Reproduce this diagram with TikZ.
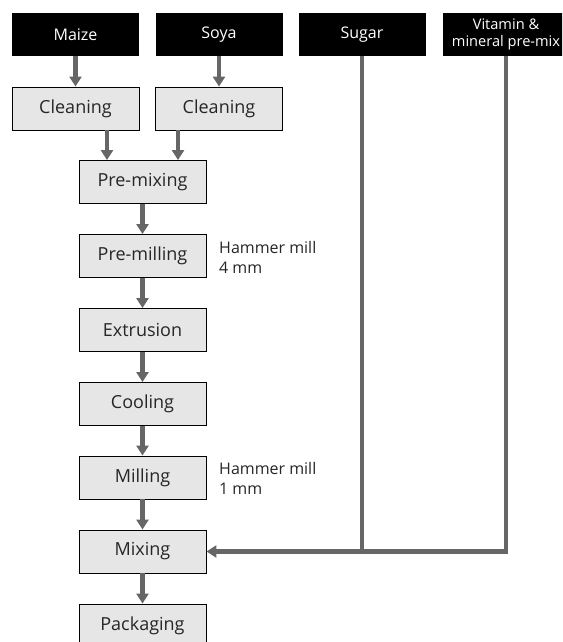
\documentclass[tikz,border=0pt]{standalone}
\usepackage{fontspec}
\setmainfont{Open Sans}
\usetikzlibrary{arrows.meta}
\definecolor{flow}{HTML}{666666}
\definecolor{boxfill}{HTML}{E6E6E6}
\begin{document}
\begin{tikzpicture}[x=1pt,y=-1pt,
  src/.style={fill=black,text=white,minimum width=127pt,minimum height=43pt,
    inner sep=0pt,align=center,font=\fontsize{16}{17.5}\selectfont},
  proc/.style={draw=black,line width=0.9pt,fill=boxfill,minimum width=127pt,
    minimum height=43pt,inner sep=0pt,text=black!85,font=\fontsize{18}{20}\selectfont},
  flowline/.style={draw=flow,line width=4.5pt},
  flowarrow/.style={flowline,-{Triangle[width=12pt,length=10pt]}},
  note/.style={anchor=north west,inner sep=0pt,align=left,text=black!85,
    font=\fontsize{16}{20}\selectfont}]
\useasboundingbox (0,0) rectangle (562,642);
\begin{scope}
\clip (0,0) rectangle (562,642);

% raw materials
\node[src] (maize) at (75.5,34.5) {Maize};
\node[src] (soya)  at (219,34.5)  {Soya};
\node[src] (sugar) at (362,34.5)  {Sugar};
\node[src,font=\fontsize{14.6}{17}\selectfont] (vit) at (506,34.5)
  {Vitamin \&\\mineral pre-mix};

% cleaning
\node[proc] (clean1) at (75.5,108.5) {Cleaning};
\node[proc] (clean2) at (219,108.5)  {Cleaning};

% main process line
\node[proc] (premix)  at (142.5,182)   {Pre-mixing};
\node[proc] (premill) at (142.5,256)   {Pre-milling};
\node[proc] (extr)    at (142.5,330)   {Extrusion};
\node[proc] (cool)    at (142.5,404)   {Cooling};
\node[proc] (mill)    at (142.5,477.5) {Milling};
\node[proc] (mix)     at (142.5,551.5) {Mixing};
\node[proc] (pack)    at (142.5,625.5) {Packaging};

% mill settings
\node[note] (n1) at (219,241.5) {Hammer mill\\4 mm};
\node[note] (n2) at (219,462.5) {Hammer mill\\1 mm};

% flows
\draw[flowarrow] (maize.south) -- (clean1.north);
\draw[flowarrow] (soya.south) -- (clean2.north);
\draw[flowarrow] (clean1.south -| 107,0) -- (premix.north -| 107,0);
\draw[flowarrow] (clean2.south -| 178,0) -- (premix.north -| 178,0);
\draw[flowarrow] (premix) -- (premill);
\draw[flowarrow] (premill) -- (extr);
\draw[flowarrow] (extr) -- (cool);
\draw[flowarrow] (cool) -- (mill);
\draw[flowarrow] (mill) -- (mix);
\draw[flowarrow] (mix) -- (pack);
\draw[flowarrow] (vit.south) |- (mix.east);
\draw[flowline] (sugar.south) -- (sugar.south |- mix.east);
\end{scope}
\end{tikzpicture}
\end{document}
